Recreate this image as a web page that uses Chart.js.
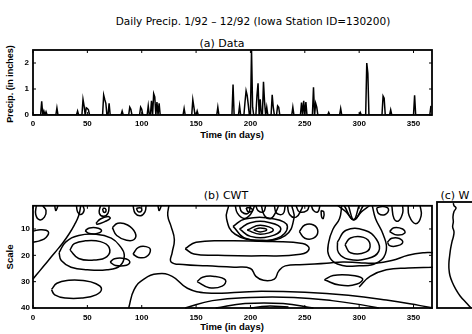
<!DOCTYPE html>
<html>
<head>
<meta charset="utf-8">
<script src="https://cdn.jsdelivr.net/npm/chart.js@4.4.0/dist/chart.umd.min.js"></script>
<style>
  body { margin: 0; background: #fff; }
  #page { position: relative; width: 472px; height: 334px; overflow: hidden; background: #fff;
          font-family: "Liberation Sans", Arial, sans-serif; color: #000; }
  .box { position: absolute; }
  .lbl { position: absolute; white-space: nowrap; transform: translate(-50%, -50%); line-height: 1; }
  .ttl { font-family: "DejaVu Sans", sans-serif; }
  .rot { transform: translate(-50%, -50%) rotate(-90deg); }
</style>
</head>
<body>
<div id="page">
  <div class="lbl ttl" style="left:253px;top:21px;font-size:10.5px">Daily Precip. 1/92 – 12/92 (Iowa Station ID=130200)</div>
  <div class="lbl ttl" style="left:222px;top:43px;font-size:11px">(a) Data</div>
  <div class="lbl rot" style="left:10px;top:84px;font-size:9px;font-weight:bold">Precip. (in inches)</div>
  <div class="lbl" style="left:232px;top:135px;font-size:9.5px;font-weight:bold">Time (in days)</div>
  <div class="lbl ttl" style="left:226px;top:195px;font-size:11px">(b) CWT</div>
  <div class="lbl ttl" style="left:455px;top:195px;font-size:11px">(c) W</div>
  <div class="lbl rot" style="left:10px;top:257px;font-size:9.5px;font-weight:bold">Scale</div>
  <div class="lbl" style="left:232px;top:327px;font-size:9.5px;font-weight:bold">Time (in days)</div>

  <div class="box" style="left:0;top:40px;width:440px;height:106px"><canvas id="precip"></canvas></div>
  <div class="box" style="left:0;top:198px;width:440px;height:136px"><canvas id="cwt"></canvas></div>
  <div class="box" style="left:430px;top:198px;width:80px;height:114px"><canvas id="wvar"></canvas></div>
</div>

<script>
/* ---- DATA ---- */
// (a) daily rainfall, days with rain only (all other days are 0)
const rainDays   = [8, 10, 12, 22, 41, 46, 47, 49, 50, 51, 65, 66, 67, 70, 82, 89, 90, 99, 100, 106,
                    109, 111, 112, 114, 116, 139, 147, 148, 151, 170, 184, 190, 195, 196, 197, 198, 201, 202,
                    206, 207, 209, 212, 213, 215, 220, 221, 225, 226, 239, 247, 249, 251, 258, 260, 261,
                    272, 283, 301, 307, 308, 322, 323, 329, 351, 366];
const rainInches = [0.53, 0.15, 0.12, 0.27, 0.15, 0.6, 0.35, 0.28, 0.25, 0.2, 0.77, 0.6, 0.45, 0.45, 0.15, 0.3, 0.22, 0.3, 0.22, 0.35,
                    0.55, 0.82, 0.7, 0.5, 0.45, 0.25, 0.58, 0.3, 0.15, 0.3, 1.17, 0.35, 0.5, 0.93, 0.75, 0.4, 2.5, 0.3,
                    0.75, 1.22, 0.6, 1.28, 0.5, 0.3, 0.78, 0.3, 0.35, 0.3, 0.3, 0.48, 0.55, 0.5, 1.07, 0.45, 0.3,
                    0.1, 0.25, 0.1, 2.0, 1.6, 0.73, 0.65, 0.2, 0.76, 0.35];
const nDays = 366;

const dayTicks    = [0, 50, 100, 150, 200, 250, 300, 350];
const precipTicks = [0, 1, 2];
const scaleTicks  = [10, 20, 30, 40];

// (b) CWT contour lines, [day, scale] pairs
const topBlobs = [
  [[3,1.2],[2.5,4.5],[6,6.5],[10.5,5.5],[12,3],[9,1.2]],
  [[20,1.2],[21,3],[23,1.2]],
  [[40,1.2],[41,3.5],[44,4.5],[47,3],[46,1.2]],
  [[62,1.2],[61,4],[65,5.2],[69,4],[70,1.2]],
  [[64,2.2],[65,3.6],[67,3.4],[66.5,2.2],[64,2.2]],
  [[92,1.2],[94,4],[99,5],[103,3.5],[104,1.2]],
  [[95,2.2],[97,3.5],[100,3],[99,2],[95,2.2]],
  [[115,1.2],[116,3],[118,1.2]],
  [[186,1],[188,4],[194,6],[200,4.5],[204,1]],
  [[190,1.2],[192,3.5],[198,4],[200,1.2]],
  [[196,2],[198,3.5],[202,3],[200,2],[196,2]],
  [[205,1.2],[207,3],[212,3.5],[214,1.2]],
  [[210,1],[213,5],[219,6],[224,3],[226,1]],
  [[222,1.2],[224,4],[230,4.2],[232,1.2]],
  [[234,1],[236,4.5],[242,5.5],[247,2.5],[248,1]],
  [[242,1.2],[245,3.5],[252,3],[254,1.2]],
  [[256,1],[258,3],[262,3.5],[264,1]],
  [[265,3],[265.5,5.5],[267,6],[267.5,3.5],[265,3]],
  [[280,1],[288,3.5],[295,6.5],[302,3.5],[310,1]],
  [[286,1],[295,6.5],[304,1]],
  [[290,1],[295,6.5],[300,1]],
  [[316,2],[318,4.2],[324,4.5],[327,2.5],[322,1.5],[316,2]],
  [[330,1],[332,6],[336,7],[340,4],[340,1]],
  [[345,1],[346,5],[352,8],[357,5],[356,1]]
];
const leftLines = [
  [[0,10.8],[7,10.3],[14,11],[12,13.2],[6,14.5],[0,15]],
  [[0,29],[6,26],[13,22.5],[20,19],[27,15.5],[33,12],[38,8.5],[42,5],[44,1]],
  [[34,18],[38,15.6],[48,14.5],[62,14.8],[70,17],[68,20.5],[56,21.8],[42,21.2],[34,18]],
  [[24,19],[30,15],[42,12.5],[58,12],[72,13.5],[80,16.5],[84,20],[80,24],[68,25.5],[50,25.5],[35,24.5],[26,22],[24,19]],
  [[48,10.6],[52,9.6],[60,9.7],[63,10.8],[58,11.8],[51,11.6],[48,10.6]],
  [[58,7.8],[62,6.2],[69,5.3],[71,6],[66,7.2],[59,8.2],[58,7.8]],
  [[73,9.5],[78,7.8],[87,8.5],[94,11.5],[93,14],[86,14.3],[77,12.5],[73,9.5]],
  [[71,22.6],[75,21.3],[84,21.2],[89,22.4],[86,23.8],[76,23.9],[71,22.6]],
  [[92,19.5],[97,17],[104,16.7],[108,18],[104,20.6],[97,20.8],[92,19.5]],
  // rises from the bottom, then runs right as the upper bottom arc
  [[88,40],[93,33],[102,29],[115,27],[128,28],[142,32.5],[160,34.3],[190,34],[210,33.6],[250,34],[290,35.2],[325,37],[355,39],[368,40]],
  [[17,33],[22,30.6],[33,29.5],[46,29.6],[58,30.8],[63,32.8],[58,35],[45,36.2],[30,36.2],[20,35],[17,33]]
];
const midLines = [
  [[140,17.5],[150,15],[180,14.5],[220,14.8],[248,15.5],[254,17.5],[246,19.6],[210,20.2],[170,20],[148,19.5],[140,17.5]],
  [[125,1],[124,5],[127,9],[130,14],[128,19],[127,22.5],[138,23.5],[160,24],[185,24.5],[200,25],[205,28],[212,29.5],[222,29],[226,26],[232,24],[250,23.5],[270,23],[285,22.5],[300,22.8],[315,23],[330,22],[345,20],[360,19],[368,19]],
  [[151,30],[156,28.3],[167,28],[177,29.4],[174,31.7],[162,32.3],[151,30]],
  [[268,29.3],[276,27.7],[290,27.5],[303,28.8],[298,30.9],[282,31.3],[268,29.3]],
  [[300,32],[310,28],[325,25.5],[345,24.8],[368,24.5]],
  [[203,10.3],[209,9.6],[215,10.3],[209,11.1],[203,10.3]],
  [[197,10.4],[209,8.6],[221,10.4],[209,12],[197,10.4]],
  [[190,10],[200,7.6],[218,7.6],[228,10],[218,12.8],[200,12.8],[190,10]],
  [[184,9],[195,6.2],[222,6.2],[234,9],[224,13.6],[196,13.6],[184,9]],
  [[180,1],[178,6],[186,12],[209,14.3],[232,12.5],[240,6],[238,1]],
  [[245,11],[250,8.5],[258,8.5],[262,11],[258,13.5],[250,13.5],[245,11]]
];
const rightLines = [
  [[287,16],[292,13.4],[304,13.2],[310,15.8],[306,18.8],[292,19],[287,16]],
  [[280,15],[288,10.5],[305,10.5],[316,14],[318,18.5],[308,21.2],[290,21.5],[281,19],[280,15]],
  [[284,1],[282,6],[276,10],[272,15],[272,20],[280,23.3],[300,24],[318,22.5],[325,18],[322,12],[315,6],[312,1]],
  [[326,15],[330,13.5],[337,13.6],[340,15.2],[334,16.5],[328,16.3],[326,15]],
  [[328,11],[332,9.5],[340,10],[342,11.5],[335,12.3],[328,11]]
];
const bottomArcs = [
  [[140,40],[165,37.2],[200,36],[240,36],[275,37.2],[305,39],[318,40]],
  [[168,40],[195,38.3],[230,38.3],[258,40]],
  [[200,40],[215,39.3],[235,39.6]]
];

// (c) wavelet variance by scale
const wvScales = [1.6, 2.5, 3.4, 4.7, 6.6, 8.4, 10.3, 12.1, 14, 15.8, 18.3, 20.7, 23.2, 25.7, 28.1, 30.6, 33.1, 35.6, 38, 40];
const wvPower  = [0.24, 0.25, 0.28, 0.25, 0.235, 0.24, 0.23, 0.25, 0.24, 0.22, 0.2, 0.187, 0.176, 0.176, 0.19, 0.225, 0.275, 0.34, 0.426, 0.5];

/* ---- helpers ---- */
const tickFont = { family: '"Liberation Sans", Arial, sans-serif', size: 8, weight: 'bold' };
const noGrid = { display: false, drawTicks: false };

// matlab style box with inward ticks
const frameTicks = {
  id: 'frameTicks',
  afterDatasetsDraw(chart, args, opts) {
    const { ctx, chartArea: a, scales } = chart;
    ctx.save();
    ctx.strokeStyle = '#000';
    ctx.lineWidth = 1.8;
    ctx.strokeRect(a.left, a.top, a.right - a.left, a.bottom - a.top);
    if (opts.ticks) {
      ctx.lineWidth = 1;
      ctx.beginPath();
      scales.x.ticks.forEach(t => {
        const x = scales.x.getPixelForValue(t.value);
        ctx.moveTo(x, a.bottom); ctx.lineTo(x, a.bottom - 3);
        ctx.moveTo(x, a.top);    ctx.lineTo(x, a.top + 3);
      });
      scales.y.ticks.forEach(t => {
        const y = scales.y.getPixelForValue(t.value);
        ctx.moveTo(a.left, y);  ctx.lineTo(a.left + 3, y);
        ctx.moveTo(a.right, y); ctx.lineTo(a.right - 3, y);
      });
      ctx.stroke();
    }
    ctx.restore();
  }
};

const fixTicks = vals => scale => { scale.ticks = vals.map(v => ({ value: v })); };

/* ---- (a) DATA ---- */
const daily = [];
for (let d = 1; d <= nDays; d++) {
  const i = rainDays.indexOf(d);
  daily.push({ x: d, y: i >= 0 ? rainInches[i] : 0 });
}

new Chart(document.getElementById('precip'), {
  type: 'line',
  data: { datasets: [{ data: daily, borderColor: '#000', borderWidth: 1.5, pointRadius: 0, tension: 0 }] },
  options: {
    responsive: true, maintainAspectRatio: false, animation: false,
    layout: { padding: { top: 10, right: 8, left: 0, bottom: 0 } },
    plugins: { legend: { display: false }, tooltip: { enabled: false }, frameTicks: { ticks: true } },
    scales: {
      x: {
        type: 'linear', min: 0, max: 367,
        grid: noGrid, border: { display: false },
        afterBuildTicks: fixTicks(dayTicks),
        afterFit: s => { s.height = 31; },
        ticks: { color: '#000', font: tickFont, padding: 4, maxRotation: 0 }
      },
      y: {
        min: 0, max: 2.5,
        grid: noGrid, border: { display: false },
        afterBuildTicks: fixTicks(precipTicks),
        afterFit: s => { s.width = 33; },
        ticks: { color: '#000', font: tickFont, padding: 4 }
      }
    }
  },
  plugins: [frameTicks]
});

/* ---- (b) CWT ---- */
const contourSets = [...topBlobs, ...leftLines, ...midLines, ...rightLines, ...bottomArcs];

new Chart(document.getElementById('cwt'), {
  type: 'scatter',
  data: {
    datasets: contourSets.map(c => ({
      data: c.map(p => ({ x: p[0], y: p[1] })),
      showLine: true, borderColor: '#000', borderWidth: 1.5,
      pointRadius: 0, tension: 0.45, clip: 1
    }))
  },
  options: {
    responsive: true, maintainAspectRatio: false, animation: false,
    layout: { padding: { top: 4, right: 8, left: 0, bottom: 0 } },
    plugins: { legend: { display: false }, tooltip: { enabled: false }, frameTicks: { ticks: true } },
    scales: {
      x: {
        type: 'linear', min: 0, max: 367,
        grid: noGrid, border: { display: false },
        afterBuildTicks: fixTicks(dayTicks),
        afterFit: s => { s.height = 26; },
        ticks: { color: '#000', font: tickFont, padding: 5, maxRotation: 0 }
      },
      y: {
        min: 1.2, max: 40, reverse: true,
        grid: noGrid, border: { display: false },
        afterBuildTicks: fixTicks(scaleTicks),
        afterFit: s => { s.width = 33; },
        ticks: { color: '#000', font: tickFont, padding: 3 }
      }
    }
  },
  plugins: [frameTicks]
});

/* ---- (c) wavelet variance ---- */
new Chart(document.getElementById('wvar'), {
  type: 'scatter',
  data: {
    datasets: [{
      data: wvScales.map((s, i) => ({ x: wvPower[i], y: s })),
      showLine: true, borderColor: '#000', borderWidth: 1.5, pointRadius: 0, tension: 0.4
    }]
  },
  options: {
    responsive: true, maintainAspectRatio: false, animation: false,
    layout: { padding: { top: 4, right: 5, left: 7, bottom: 4 } },
    plugins: { legend: { display: false }, tooltip: { enabled: false }, frameTicks: { ticks: false } },
    scales: {
      x: { display: false, min: 0, max: 1 },
      y: { display: false, min: 1.2, max: 40, reverse: true }
    }
  },
  plugins: [frameTicks]
});
</script>
</body>
</html>
